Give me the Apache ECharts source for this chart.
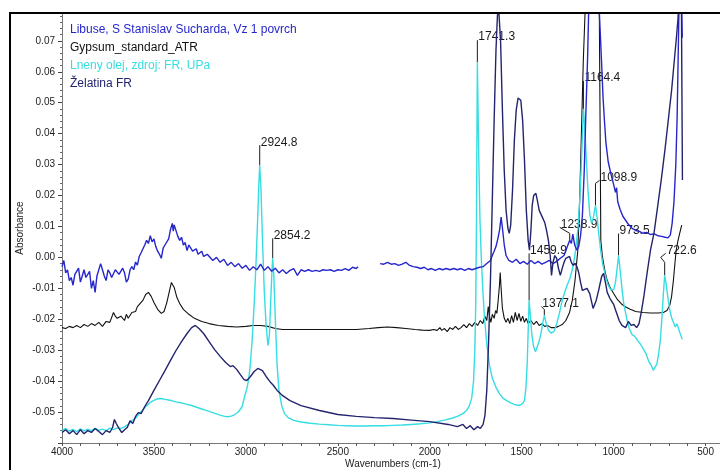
<!DOCTYPE html>
<html>
<head>
<meta charset="utf-8">
<script src="https://cdn.jsdelivr.net/npm/echarts@6/dist/echarts.min.js"></script>
<style>
  html, body { margin: 0; padding: 0; background: #fff; }
  #chart { width: 720px; height: 470px; }
</style>
</head>
<body>
<div id="chart"></div>
<script>
// ---- FTIR spectra: [wavenumber (cm-1), absorbance] ----
const seriesNames = [
  'Libuse, S Stanislav Sucharda, Vz 1 povrch',
  'Gypsum_standard_ATR',
  'Lneny olej, zdroj: FR, UPa',
  'Želatina FR'
];

const libuse = [
  [4000,-0.003],[3990,-0.001],[3980,-0.005],[3970,-0.004],[3960,-0.0075],[3950,-0.0065],[3940,-0.009],[3930,-0.0055],
  [3920,-0.006],[3910,-0.0035],[3900,-0.008],[3890,-0.006],[3880,-0.004],[3870,-0.0065],[3860,-0.007],[3850,-0.0045],
  [3840,-0.010],[3830,-0.0075],[3820,-0.0113],[3810,-0.006],[3800,-0.0055],[3790,-0.002],[3780,-0.004],[3770,-0.006],
  [3760,-0.0075],[3750,-0.004],[3740,-0.005],[3730,-0.0065],[3720,-0.007],[3710,-0.004],[3700,-0.0035],[3690,-0.0055],
  [3680,-0.006],[3670,-0.0035],[3660,-0.005],[3650,-0.008],[3640,-0.007],[3630,-0.004],[3620,-0.003],[3610,-0.004],
  [3600,-0.0015],[3590,-0.0025],[3580,0.0003],[3570,0.0015],[3560,0.002],[3550,0.004],[3540,0.0055],[3530,0.0045],
  [3520,0.007],[3510,0.005],[3500,0.006],[3490,0.0035],[3480,0.002],[3470,0.001],[3460,-0.0003],[3450,0.003],
  [3440,0.004],[3430,0.0035],[3420,0.006],[3410,0.009],[3400,0.011],[3395,0.0085],[3390,0.0105],[3380,0.010],
  [3370,0.0068],[3360,0.0055],[3350,0.0065],[3340,0.004],[3330,0.0048],[3320,0.0022],[3310,0.004],[3300,0.0035],
  [3290,0.002],[3280,0.0016],[3270,0.0028],[3260,0.001],[3250,0.0015],[3240,0.002],[3230,0.0003],[3220,-0.0003],
  [3210,0.001],[3200,0.0006],[3180,-0.001],[3160,0],[3140,-0.0016],[3120,-0.0006],[3100,-0.0026],[3080,-0.0016],
  [3060,-0.003],[3040,-0.002],[3020,-0.0035],[3000,-0.0026],[2980,-0.0042],[2960,-0.003],[2940,-0.004],[2920,-0.0022],
  [2900,-0.0042],[2880,-0.003],[2860,-0.0045],[2840,-0.0035],[2820,-0.005],[2800,-0.004],[2780,-0.0052],[2760,-0.0042],
  [2740,-0.0036],[2720,-0.0058],[2700,-0.004],[2680,-0.0045],[2660,-0.004],[2640,-0.0045],[2620,-0.0042],[2600,-0.0045],
  [2580,-0.004],[2560,-0.0042],[2540,-0.004],[2520,-0.0045],[2500,-0.004],[2480,-0.0042],[2460,-0.0036],[2440,-0.0042],
  [2420,-0.0032],[2400,-0.0036],[2390,-0.003],[2330,null],
  [2270,-0.002],[2250,-0.0022],[2230,-0.0016],[2210,-0.0022],[2190,-0.002],[2170,-0.0026],[2150,-0.0022],[2130,-0.0016],
  [2110,-0.0026],[2090,-0.003],[2070,-0.0032],[2050,-0.0036],[2030,-0.0032],[2010,-0.004],[1990,-0.0036],[1970,-0.0042],
  [1950,-0.0036],[1930,-0.004],[1910,-0.0036],[1890,-0.004],[1870,-0.0036],[1850,-0.004],[1830,-0.0036],[1810,-0.0042],
  [1790,-0.0036],[1770,-0.004],[1750,-0.0036],[1730,-0.0032],[1710,-0.003],[1690,-0.002],[1670,-0.001],[1660,0.0006],
  [1650,0.002],[1640,0.0035],[1630,0.006],[1620,0.009],[1612,0.013],[1604,0.009],[1595,0.004],[1585,0.0006],
  [1570,-0.001],[1550,-0.0016],[1530,-0.0006],[1510,-0.002],[1490,-0.0013],[1470,-0.0022],[1450,-0.001],[1430,-0.002],
  [1410,-0.0013],[1390,-0.0022],[1370,-0.0016],[1350,-0.001],[1330,-0.002],[1310,-0.0013],[1290,-0.0003],[1270,0.0006],
  [1255,0.003],[1238.9,0.0055],[1230,0.0045],[1222,0.0075],[1212,0.004],[1200,0.0023],[1190,0.0035],[1180,0.007],
  [1170,0.0136],[1160,0.028],[1152,0.045],[1142,0.064],[1135,0.082],[1120,0.100],[1100,0.106],[1085,0.098],
  [1080,0.082],[1065,0.062],[1058,0.052],[1050,0.044],[1042,0.037],[1030,0.031],[1015,0.027],[1000,0.0235],
  [990,0.021],[984,0.0225],[978,0.018],[965,0.0155],[950,0.0133],[935,0.012],[920,0.0107],[900,0.0094],
  [880,0.0087],[860,0.0084],[840,0.0078],[820,0.0081],[800,0.0074],[780,0.0076],[760,0.007],[740,0.0068],
  [720,0.0065],[705,0.0063],[692,0.0072],[682,0.011],[672,0.018],[662,0.030],[655,0.045],[650,0.062],
  [645,0.080],[640,0.096],[632,0.086],[627,0.071]
];

const gypsum = [
  [4000,-0.0227],[3980,-0.023],[3960,-0.0223],[3940,-0.0227],[3920,-0.022],[3900,-0.0227],[3880,-0.0217],[3860,-0.0223],
  [3840,-0.0214],[3820,-0.022],[3800,-0.021],[3780,-0.0223],[3760,-0.0207],[3740,-0.021],[3720,-0.0178],[3710,-0.019],
  [3700,-0.0197],[3680,-0.019],[3660,-0.0204],[3650,-0.0184],[3640,-0.0197],[3620,-0.0178],[3600,-0.0175],[3590,-0.0159],
  [3580,-0.0165],[3560,-0.0139],[3545,-0.012],[3530,-0.0113],[3515,-0.0126],[3500,-0.0146],[3480,-0.0168],[3460,-0.0181],
  [3445,-0.0175],[3430,-0.0146],[3415,-0.0107],[3405,-0.0081],[3398,-0.0078],[3390,-0.0097],[3375,-0.013],[3360,-0.0149],
  [3340,-0.0168],[3310,-0.0184],[3280,-0.0197],[3240,-0.0207],[3200,-0.0214],[3150,-0.022],[3100,-0.0223],[3050,-0.0225],
  [3000,-0.0223],[2960,-0.022],[2920,-0.022],[2880,-0.0223],[2840,-0.023],[2800,-0.0233],[2700,-0.0233],[2600,-0.0233],
  [2500,-0.0233],[2400,-0.0233],[2330,-0.023],[2280,-0.0227],[2230,-0.0225],[2180,-0.0227],[2130,-0.023],[2080,-0.0233],
  [2040,-0.0235],[2000,-0.0236],[1980,-0.0233],[1960,-0.0236],[1945,-0.0227],[1935,-0.0236],[1920,-0.023],[1905,-0.024],
  [1890,-0.0227],[1875,-0.0233],[1860,-0.0223],[1845,-0.0233],[1830,-0.0227],[1815,-0.0217],[1800,-0.0227],[1785,-0.0214],
  [1770,-0.0223],[1755,-0.021],[1740,-0.022],[1725,-0.0204],[1712,-0.0214],[1700,-0.019],[1690,-0.0204],[1682,-0.0159],
  [1676,-0.0188],[1668,-0.021],[1660,-0.0184],[1650,-0.0197],[1642,-0.0172],[1635,-0.0181],[1628,-0.0139],[1621,-0.009],
  [1617,-0.0049],[1612,-0.010],[1605,-0.0165],[1595,-0.0197],[1585,-0.021],[1575,-0.0197],[1565,-0.0214],[1555,-0.0188],
  [1545,-0.021],[1535,-0.0178],[1525,-0.0204],[1515,-0.0181],[1505,-0.0207],[1495,-0.019],[1485,-0.021],[1475,-0.0197],
  [1465,-0.0214],[1450,-0.0204],[1435,-0.0217],[1420,-0.0207],[1405,-0.022],[1390,-0.0214],[1375,-0.0223],[1360,-0.022],
  [1340,-0.0227],[1320,-0.0227],[1300,-0.0223],[1280,-0.0217],[1260,-0.0204],[1240,-0.0178],[1225,-0.0139],[1210,-0.0074],
  [1195,0.0023],[1185,0.0184],[1175,0.0411],[1165,0.0638],[1155,0.080],[1145,0.099],[1110,0.103],[1085,0.093],
  [1078,0.079],[1074,0.0443],[1070,0.0055],[1062,0.0006],[1055,-0.0019],[1045,-0.0052],[1035,-0.0074],[1020,-0.0097],
  [1000,-0.0117],[980,-0.0136],[960,-0.0149],[940,-0.0159],[910,-0.0168],[880,-0.0175],[840,-0.0178],[800,-0.018],
  [760,-0.018],[730,-0.0178],[710,-0.0172],[695,-0.0155],[685,-0.0126],[675,-0.0074],[668,-0.0026],[660,0.0023],
  [650,0.0055],[640,0.008],[630,0.0104]
];

const lnenyOlej = [
  [4000,-0.056],[3980,-0.0553],[3960,-0.0562],[3940,-0.0556],[3920,-0.0563],[3900,-0.0554],[3880,-0.0561],[3860,-0.0555],
  [3840,-0.056],[3820,-0.0553],[3800,-0.0559],[3780,-0.0555],[3760,-0.056],[3740,-0.0552],[3720,-0.0557],[3700,-0.0551],
  [3680,-0.0553],[3660,-0.0548],[3640,-0.054],[3620,-0.0528],[3600,-0.052],[3580,-0.0505],[3560,-0.0493],[3540,-0.048],
  [3520,-0.0469],[3500,-0.0462],[3480,-0.0457],[3460,-0.0456],[3440,-0.0459],[3420,-0.0461],[3400,-0.0464],[3380,-0.0467],
  [3360,-0.0469],[3340,-0.0472],[3320,-0.0475],[3300,-0.0478],[3280,-0.0482],[3260,-0.0486],[3240,-0.049],[3220,-0.0494],
  [3200,-0.0498],[3180,-0.0502],[3160,-0.0506],[3140,-0.051],[3120,-0.0513],[3100,-0.0515],[3080,-0.0513],[3060,-0.0508],
  [3040,-0.0499],[3020,-0.0482],[3005,-0.0445],[2995,-0.0425],[2985,-0.0395],[2975,-0.034],[2965,-0.026],[2955,-0.015],
  [2945,-0.002],[2935,0.014],[2930,0.023],[2924.8,0.0298],[2918,0.022],[2910,0.006],[2900,-0.011],[2890,-0.022],
  [2880,-0.0285],[2872,-0.025],[2865,-0.014],[2858,-0.004],[2854.2,-0.0003],[2848,-0.006],[2840,-0.02],[2830,-0.035],
  [2820,-0.043],[2805,-0.048],[2790,-0.0505],[2770,-0.0518],[2740,-0.0527],[2700,-0.0532],[2650,-0.0536],[2600,-0.0539],
  [2550,-0.0541],[2500,-0.0543],[2450,-0.0544],[2400,-0.0545],[2350,-0.0545],[2300,-0.0544],[2250,-0.0544],[2200,-0.0543],
  [2150,-0.0542],[2100,-0.054],[2050,-0.0538],[2000,-0.0535],[1960,-0.0531],[1920,-0.0526],[1880,-0.052],[1850,-0.0514],
  [1820,-0.0505],[1800,-0.0495],[1785,-0.048],[1772,-0.0455],[1762,-0.04],[1755,-0.03],[1750,-0.015],[1746,0.012],
  [1743,0.045],[1741.3,0.0631],[1738,0.05],[1733,0.03],[1727,0.012],[1720,0.0],[1712,-0.01],[1702,-0.02],
  [1690,-0.028],[1675,-0.035],[1660,-0.039],[1640,-0.042],[1620,-0.0442],[1600,-0.0456],[1580,-0.0464],[1560,-0.047],
  [1540,-0.0475],[1525,-0.0478],[1510,-0.0478],[1495,-0.0472],[1485,-0.0462],[1477,-0.042],[1470,-0.034],[1465,-0.024],
  [1459.9,-0.0139],[1454,-0.018],[1445,-0.025],[1435,-0.029],[1425,-0.0305],[1415,-0.03],[1405,-0.027],[1395,-0.0245],
  [1385,-0.021],[1377.1,-0.0188],[1368,-0.021],[1355,-0.0235],[1340,-0.0245],[1325,-0.024],[1310,-0.0215],[1295,-0.018],
  [1280,-0.014],[1265,-0.011],[1250,-0.0085],[1238.9,-0.007],[1225,-0.004],[1210,0.001],[1195,0.009],[1185,0.018],
  [1178,0.027],[1172,0.036],[1164.4,0.048],[1158,0.043],[1150,0.033],[1140,0.022],[1130,0.014],[1120,0.011],
  [1110,0.013],[1098.9,0.0168],[1090,0.013],[1080,0.007],[1070,0.002],[1060,-0.002],[1045,-0.006],[1030,-0.009],
  [1015,-0.0105],[1000,-0.0105],[990,-0.008],[982,-0.004],[973.5,0.0006],[965,-0.004],[955,-0.01],[945,-0.015],
  [930,-0.0195],[915,-0.023],[900,-0.025],[885,-0.0255],[870,-0.0268],[855,-0.028],[840,-0.0295],[825,-0.031],
  [810,-0.0335],[795,-0.035],[785,-0.0365],[775,-0.0355],[765,-0.0345],[755,-0.031],[745,-0.026],[737,-0.019],
  [730,-0.012],[722.6,-0.0058],[715,-0.0085],[705,-0.013],[695,-0.017],[685,-0.0195],[675,-0.021],[665,-0.0225],
  [655,-0.0215],[645,-0.0235],[635,-0.024],[627,-0.0265]
];

const zelatina = [
  [4000,-0.0566],[3980,-0.0557],[3960,-0.057],[3940,-0.056],[3920,-0.0573],[3900,-0.0557],[3880,-0.057],[3860,-0.056],
  [3840,-0.0566],[3820,-0.0553],[3800,-0.0563],[3780,-0.0573],[3760,-0.056],[3740,-0.0566],[3725,-0.055],[3715,-0.0524],
  [3705,-0.0537],[3690,-0.0553],[3675,-0.0566],[3660,-0.0557],[3645,-0.055],[3630,-0.0528],[3615,-0.0537],[3600,-0.0514],
  [3585,-0.0502],[3570,-0.0505],[3550,-0.0482],[3530,-0.0463],[3500,-0.043],[3470,-0.0398],[3440,-0.0366],[3410,-0.0333],
  [3380,-0.0301],[3350,-0.0272],[3320,-0.0246],[3295,-0.0227],[3275,-0.022],[3255,-0.023],[3230,-0.0246],[3200,-0.0272],
  [3170,-0.0298],[3140,-0.032],[3110,-0.034],[3085,-0.0353],[3070,-0.035],[3050,-0.0362],[3030,-0.0379],[3010,-0.0395],
  [2995,-0.0398],[2975,-0.0385],[2955,-0.0369],[2935,-0.0359],[2925,-0.0356],[2910,-0.0366],[2890,-0.0385],[2870,-0.0401],
  [2850,-0.0414],[2830,-0.043],[2800,-0.0447],[2760,-0.0463],[2700,-0.0479],[2600,-0.0495],[2500,-0.0508],[2400,-0.0514],
  [2300,-0.0518],[2200,-0.0521],[2100,-0.0526],[2000,-0.0531],[1900,-0.054],[1850,-0.0547],[1820,-0.054],[1800,-0.0553],
  [1780,-0.0544],[1760,-0.0557],[1740,-0.0547],[1725,-0.0553],[1710,-0.054],[1700,-0.0511],[1690,-0.043],[1680,-0.0269],
  [1670,-0.0074],[1660,0.0184],[1650,0.0443],[1640,0.067],[1632,0.0783],[1625,0.080],[1615,0.070],[1605,0.0476],
  [1595,0.028],[1585,0.0152],[1575,0.0094],[1568,0.0078],[1560,0.0104],[1550,0.0217],[1540,0.0379],[1530,0.0476],
  [1520,0.0515],[1512,0.0521],[1505,0.0508],[1495,0.0443],[1485,0.0314],[1475,0.0152],[1465,0.0055],[1458,0.0023],
  [1450,0.0087],[1443,0.0168],[1435,0.020],[1423,0.0207],[1415,0.0184],[1405,0.0152],[1395,0.0146],[1385,0.0126],
  [1375,0.0113],[1365,0.0087],[1355,0.0055],[1345,0.0006],[1338,-0.0058],[1330,-0.0016],[1320,0.0006],[1310,-0.0003],
  [1300,-0.0036],[1290,-0.0058],[1280,-0.0036],[1270,-0.0016],[1260,-0.0003],[1250,0.0003],[1240,0.0003],[1230,-0.0016],
  [1220,-0.0026],[1210,-0.0019],[1200,-0.003],[1190,-0.0049],[1180,-0.0081],[1170,-0.0107],[1160,-0.011],[1145,-0.010],
  [1130,-0.0117],[1112,-0.0165],[1095,-0.0139],[1082,-0.0107],[1065,-0.0061],[1055,-0.0052],[1045,-0.0081],[1035,-0.0113],
  [1020,-0.0133],[1000,-0.0152],[985,-0.0178],[970,-0.0204],[955,-0.022],[935,-0.0227],[920,-0.0207],[905,-0.022],
  [890,-0.0217],[875,-0.0227],[862,-0.0214],[850,-0.0178],[835,-0.0123],[820,-0.0058],[800,0.0023],[780,0.0081],
  [760,0.0168],[740,0.0256],[720,0.0353],[700,0.046],[685,0.054],[670,0.0638],[660,0.0702],[650,0.0773],
  [640,0.0896],[632,0.0864],[626,0.025]
];

const seriesData = [libuse, gypsum, lnenyOlej, zelatina];
const seriesColors = ['#2626cc', '#111111', '#36dde3', '#24246e'];

// Picked peaks: wavenumber and the spectrum (index into seriesData) each one belongs to
const peakWavenumbers = [2924.8, 2854.2, 1741.3, 1459.9, 1377.1, 1238.9, 1164.4, 1098.9, 973.5, 722.6];
const peakSeriesIndex = [2, 2, 2, 2, 2, 0, 2, 2, 2, 2];

const yTickLabels = [-0.05, -0.04, -0.03, -0.02, -0.01, 0.00, 0.01, 0.02, 0.03, 0.04, 0.05, 0.06, 0.07];
const xTickLabels = [4000, 3500, 3000, 2500, 2000, 1500, 1000, 500];

// ---- drawing ----
const FONT = '"Liberation Sans", Arial, sans-serif';

// leader-line shapes (pixel offsets from the peak point, last point anchors the text)
const leaderPaths = [
  [[0,0],[0,-20]],
  [[0,0],[0,-20]],
  [[0,0],[0,-22]],
  [[0,0],[0,-47]],
  [[0,0],[0,-6],[-3,-9]],
  [[0,0],[0,-7],[-10,-13]],
  [[0,0],[0,-28]],
  [[0,0],[0,-22],[4,-25]],
  [[0,0],[0,-22]],
  [[0,0],[0,-13],[-4,-18],[1,-22]]
];

function absAt(data, wn) {
  const hit = data.find(d => d[0] === wn);
  return hit ? hit[1] : null;
}
const peakData = peakWavenumbers.map((wn, i) => [wn, absAt(seriesData[peakSeriesIndex[i]], wn), i]);

const chart = echarts.init(document.getElementById('chart'), null, { renderer: 'canvas' });

const lineSeries = seriesNames.map((name, i) => ({
  name: name,
  type: 'line',
  data: seriesData[i],
  showSymbol: false,
  symbol: 'none',
  connectNulls: false,
  clip: true,
  z: 3 + (i === 0 ? 3 : i),
  lineStyle: { color: seriesColors[i], width: i === 1 ? 1.1 : 1.4 },
  itemStyle: { color: seriesColors[i] },
  emphasis: { disabled: true }
}));

const option = {
  animation: false,
  backgroundColor: '#ffffff',
  grid: { left: 62, top: 13, width: 662, height: 430, containLabel: false, outerBoundsMode: 'none' },
  legend: {
    orient: 'vertical',
    left: 60,
    top: 16,
    icon: 'none',
    itemWidth: 0,
    itemHeight: 0,
    itemGap: 0,
    selectedMode: false,
    textStyle: { fontFamily: FONT, fontSize: 12, lineHeight: 18 },
    data: seriesNames.map((n, i) => ({ name: n, textStyle: { color: seriesColors[i] } }))
  },
  xAxis: [{
    type: 'value',
    inverse: true,
    min: 400,
    max: 4000,
    interval: 100,
    name: 'Wavenumbers (cm-1)',
    nameLocation: 'middle',
    nameGap: 16,
    nameMoveOverlap: false,
    nameTextStyle: { fontFamily: FONT, fontSize: 10, color: '#222' },
    axisLine: { show: true, onZero: false, lineStyle: { color: '#777', width: 1 } },
    axisTick: { show: true, length: 3, lineStyle: { color: '#555' } },
    axisLabel: {
      fontFamily: FONT, fontSize: 10, color: '#222', margin: 4,
      showMinLabel: true, showMaxLabel: true,
      formatter: v => (xTickLabels.indexOf(v) >= 0 ? String(v) : '')
    },
    splitLine: { show: false }
  }],
  yAxis: [{
    type: 'value',
    min: -0.06,
    max: 0.079,
    interval: 0.01,
    name: 'Absorbance',
    nameLocation: 'middle',
    nameRotate: 90,
    nameGap: 37,
    nameMoveOverlap: false,
    nameTextStyle: { fontFamily: FONT, fontSize: 10, color: '#222' },
    axisLine: { show: true, onZero: false, lineStyle: { color: '#777', width: 1 } },
    axisTick: { show: true, length: 4, lineStyle: { color: '#444' } },
    minorTick: { show: true, splitNumber: 5, length: 2, lineStyle: { color: '#666' } },
    axisLabel: {
      fontFamily: FONT, fontSize: 10, color: '#222', margin: 7,
      showMinLabel: false, showMaxLabel: false,
      formatter: v => {
        const r = Math.round(v * 100) / 100;
        return yTickLabels.some(t => Math.abs(t - r) < 1e-9) ? r.toFixed(2) : '';
      }
    },
    splitLine: { show: false }
  }],
  graphic: [{
    type: 'rect',
    z: 100,
    silent: true,
    shape: { x: 10, y: 13, width: 740, height: 480 },
    style: { fill: 'none', stroke: '#000', lineWidth: 2 }
  }],
  series: [{
    name: 'peaks',
    type: 'custom',
    coordinateSystem: 'cartesian2d',
    silent: true,
    clip: false,
    z: 1,
    encode: { x: 0, y: 1 },
    data: peakData,
    renderItem: function (params, api) {
      const p = api.coord([api.value(0), api.value(1)]);
      const path = leaderPaths[api.value(2)];
      const pts = path.map(d => [p[0] + d[0], p[1] + d[1]]);
      const end = pts[pts.length - 1];
      return {
        type: 'group',
        children: [{
          type: 'polyline',
          shape: { points: pts },
          style: { stroke: '#1a1a1a', lineWidth: 1, fill: 'none' }
        }, {
          type: 'text',
          x: end[0] + 1,
          y: end[1] + 3,
          style: {
            text: api.value(0).toFixed(1),
            fill: '#1a1a1a',
            font: '12px ' + FONT,
            align: 'left',
            verticalAlign: 'bottom'
          }
        }]
      };
    }
  }].concat(lineSeries)
};

chart.setOption(option);
</script>
</body>
</html>
